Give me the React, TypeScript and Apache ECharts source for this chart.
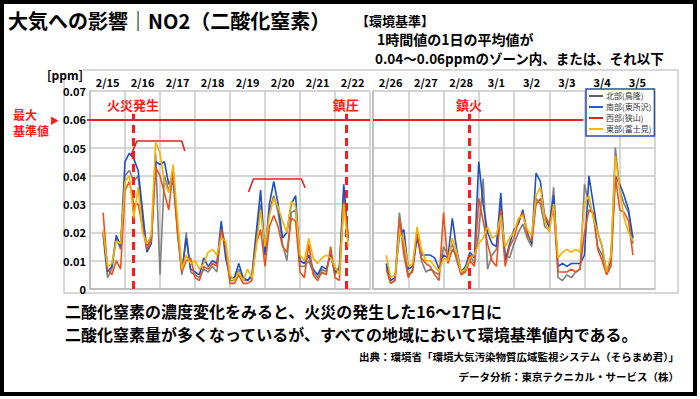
import React, { useEffect, useRef } from "react";
import * as echarts from "echarts";

const JP = '"Noto Sans CJK JP", "Noto Sans", sans-serif';

const leftDates = ["2/15", "2/16", "2/17", "2/18", "2/19", "2/20", "2/21", "2/22"];
const rightDates = ["2/26", "2/27", "2/28", "3/1", "3/2", "3/3", "3/4", "3/5"];
const seriesNames = ["北部(鳥隆)", "南部(東所沢)", "西部(狭山)", "東部(富士見)"];
const lineColors = ["#808080", "#1f4fc4", "#e8541c", "#f5b400"];
const legendColors = ["#606060", "#2a5ac8", "#e82020", "#f5b400"];

// 3-hourly readings, starting 09:00 of the first day of each panel
const START = 0.375;
const STEP = 0.125;

const leftNorth = [0.019,0.004,0.007,0.018,0.014,0.040,0.042,0.038,0.040,0.025,0.015,0.018,0.048,0.005,0.040,0.035,0.038,0.020,0.005,0.020,0.006,0.005,0.004,0.007,0.006,0.008,0.006,0.021,0.016,0.003,0.003,0.007,0.003,0.003,0.004,0.018,0.030,0.012,0.028,0.033,0.027,0.016,0.010,0.027,0.028,0.008,0.008,0.010,0.006,0.004,0.007,0.006,0.013,0.005,0.008,0.034,0.017];
const leftSouth = [0.020,0.006,0.008,0.019,0.015,0.045,0.048,0.046,0.042,0.028,0.013,0.016,0.045,0.044,0.045,0.037,0.040,0.022,0.006,0.018,0.007,0.006,0.005,0.011,0.008,0.010,0.009,0.024,0.011,0.004,0.004,0.009,0.004,0.003,0.005,0.020,0.035,0.012,0.030,0.038,0.030,0.018,0.020,0.030,0.033,0.010,0.009,0.012,0.007,0.005,0.008,0.007,0.012,0.006,0.007,0.037,0.018];
const leftWest = [0.027,0.007,0.005,0.010,0.007,0.035,0.038,0.030,0.030,0.022,0.014,0.017,0.043,0.040,0.034,0.028,0.042,0.020,0.006,0.010,0.011,0.004,0.003,0.008,0.007,0.009,0.008,0.021,0.015,0.002,0.002,0.005,0.002,0.002,0.003,0.016,0.021,0.008,0.022,0.026,0.022,0.015,0.013,0.025,0.024,0.006,0.004,0.016,0.005,0.003,0.006,0.005,0.015,0.004,0.003,0.031,0.019];
const leftEast = [0.021,0.008,0.009,0.017,0.016,0.038,0.040,0.025,0.036,0.020,0.016,0.019,0.052,0.048,0.038,0.034,0.044,0.025,0.007,0.012,0.009,0.010,0.007,0.009,0.013,0.014,0.012,0.018,0.017,0.005,0.003,0.006,0.003,0.007,0.004,0.015,0.028,0.015,0.026,0.032,0.029,0.024,0.020,0.031,0.029,0.012,0.010,0.018,0.011,0.009,0.011,0.012,0.011,0.008,0.005,0.030,0.015];

const rightNorth = [0.008,0.002,0.003,0.027,0.015,0.005,0.006,0.019,0.010,0.006,0.007,0.006,0.005,0.015,0.012,0.016,0.010,0.005,0.007,0.012,0.009,0.020,0.039,0.007,0.012,0.014,0.030,0.012,0.011,0.016,0.020,0.023,0.018,0.015,0.032,0.030,0.022,0.021,0.036,0.004,0.003,0.005,0.004,0.006,0.007,0.037,0.030,0.026,0.015,0.012,0.006,0.010,0.050,0.035,0.030,0.027,0.016];
const rightSouth = [0.009,0.003,0.004,0.019,0.021,0.007,0.008,0.018,0.012,0.012,0.012,0.011,0.007,0.012,0.011,0.025,0.014,0.006,0.008,0.013,0.011,0.045,0.030,0.020,0.016,0.015,0.034,0.010,0.016,0.021,0.023,0.028,0.020,0.016,0.041,0.038,0.025,0.022,0.033,0.008,0.009,0.008,0.009,0.009,0.009,0.012,0.040,0.030,0.020,0.015,0.006,0.010,0.040,0.037,0.033,0.028,0.018];
const rightWest = [0.007,0.002,0.003,0.025,0.012,0.004,0.007,0.020,0.011,0.009,0.008,0.005,0.003,0.027,0.009,0.014,0.012,0.005,0.006,0.010,0.008,0.032,0.024,0.016,0.010,0.008,0.028,0.008,0.015,0.018,0.024,0.027,0.019,0.017,0.030,0.032,0.026,0.023,0.028,0.006,0.006,0.006,0.007,0.006,0.007,0.020,0.028,0.027,0.014,0.010,0.005,0.008,0.040,0.028,0.027,0.024,0.012];
const rightEast = [0.012,0.004,0.005,0.020,0.017,0.008,0.009,0.022,0.014,0.010,0.010,0.008,0.006,0.011,0.010,0.018,0.013,0.006,0.007,0.011,0.012,0.016,0.018,0.022,0.018,0.019,0.026,0.015,0.018,0.020,0.025,0.026,0.021,0.019,0.033,0.036,0.024,0.020,0.030,0.011,0.013,0.014,0.013,0.014,0.013,0.030,0.033,0.025,0.020,0.015,0.006,0.012,0.047,0.035,0.025,0.020,0.017];

// annotations (in day units / ppm)
const STANDARD = 0.06;
const DASH_TOP = 0.062;
const fireStart = 1.23; // 火災発生 (left panel)
const suppressed = 7.31; // 鎮圧 (left panel)
const extinguished = 2.72; // 鎮火 (right panel)
const rightStdEnd = 5.96;
const bracket1 = [[1.17, 0.0473], [1.34, 0.0523], [2.62, 0.0523], [2.71, 0.0488]];
const bracket2 = [[4.53, 0.0343], [4.67, 0.0389], [6.04, 0.0389], [6.15, 0.0357]];

const toPts = (arr: number[]) => arr.map((v, i) => [START + i * STEP, v]);

const RED = "#ff1a1a";
const GRID_LINE = "#c8c8c8";

function dashLine(t: number, text: string) {
  return [
    {
      coord: [t, 0],
      lineStyle: { color: RED, width: 3, type: [8, 5] },
      label: {
        show: true,
        position: "end",
        formatter: text,
        color: RED,
        fontSize: 13,
        fontWeight: "bold",
        fontFamily: JP,
        distance: 3,
      },
    },
    { coord: [t, DASH_TOP] },
  ];
}

function stdLine(end: number) {
  return [
    { coord: [0, STANDARD], lineStyle: { color: "#e82020", width: 2, type: "solid" }, label: { show: false } },
    { coord: [end, STANDARD] },
  ];
}

export default function App() {
  const ref = useRef<HTMLDivElement>(null);
  useEffect(() => {
    if (!ref.current) return;
    const chart = echarts.init(ref.current, undefined, { renderer: "svg" });

    const panelSeries = (grid: number, data: number[][], withMarks: any) =>
      data.map((arr, k) => ({
        name: seriesNames[k],
        type: "line",
        xAxisIndex: grid * 2,
        yAxisIndex: grid,
        data: toPts(arr),
        showSymbol: false,
        symbol: "none",
        lineStyle: { color: lineColors[k], width: 1.6 },
        itemStyle: { color: legendColors[k] },
        z: 3 + k,
        markLine: k === 0 ? withMarks : undefined,
      }));

    const xValue = (grid: number) => ({
      type: "value",
      gridIndex: grid,
      min: 0,
      max: 8,
      interval: 1,
      axisLine: { show: true, lineStyle: { color: "#b8b8b8", width: 1.5 } },
      axisTick: { show: false },
      axisLabel: { show: false },
      splitLine: { show: true, lineStyle: { color: GRID_LINE, width: 1.5 } },
    });
    const xCat = (grid: number, data: string[]) => ({
      type: "category",
      gridIndex: grid,
      position: "top",
      data,
      boundaryGap: true,
      axisLine: { show: false },
      axisTick: { show: false },
      splitLine: { show: false },
      axisLabel: { fontSize: 11, fontWeight: "bold", color: "#000", fontFamily: JP, margin: 4 },
    });
    const yAx = (grid: number, labels: boolean) => ({
      type: "value",
      gridIndex: grid,
      min: 0,
      max: 0.07,
      interval: 0.01,
      axisLine: { show: true, lineStyle: { color: "#b8b8b8", width: 1.5 } },
      axisTick: { show: false },
      axisLabel: {
        show: labels,
        fontSize: 11,
        fontWeight: "bold",
        color: "#000",
        fontFamily: JP,
        margin: 4,
        formatter: (v: number) => (v === 0 ? "0" : v.toFixed(2)),
      },
      splitLine: { show: true, lineStyle: { color: GRID_LINE, width: 1.5 } },
    });

    const txt = (text: string, x: number, y: number, size: number, opts: any = {}) => ({
      type: "text",
      z: 20,
      style: {
        text,
        x,
        y,
        fill: opts.fill || "#000",
        fontSize: size,
        fontWeight: "bold",
        fontFamily: JP,
        textAlign: opts.align || "left",
        textVerticalAlign: "middle",
        backgroundColor: opts.bg,
        lineHeight: opts.lh,
      },
    });

    const bracketSeries = (pts: number[][]) => ({
      type: "line",
      xAxisIndex: 0,
      yAxisIndex: 0,
      data: pts,
      showSymbol: false,
      symbol: "none",
      lineStyle: { color: "#e82020", width: 1.6 },
      z: 10,
      silent: true,
    });

    chart.setOption({
      animation: false,
      backgroundColor: "#ffffff",
      grid: [
        { left: 90, top: 91, width: 280, height: 198 },
        { left: 373, top: 91, width: 282, height: 198 },
      ],
      xAxis: [xValue(0), xCat(0, leftDates), xValue(1), xCat(1, rightDates)],
      yAxis: [yAx(0, true), yAx(1, false)],
      legend: {
        data: seriesNames,
        orient: "vertical",
        left: 586,
        top: 89,
        icon: "rect",
        itemWidth: 14,
        itemHeight: 2,
        itemGap: 3,
        padding: [3, 3, 3, 3],
        borderColor: "#2a4cae",
        borderWidth: 1.5,
        backgroundColor: "#ffffff",
        selectedMode: false,
        textStyle: { fontSize: 8, fontFamily: JP, color: "#333", padding: [0, 0, 0, -2] },
        z: 30,
      },
      series: [
        ...panelSeries(0, [leftNorth, leftSouth, leftWest, leftEast], {
          silent: true,
          symbol: "none",
          animation: false,
          data: [stdLine(8), dashLine(fireStart, "火災発生"), dashLine(suppressed, "鎮圧")],
        }),
        ...panelSeries(1, [rightNorth, rightSouth, rightWest, rightEast], {
          silent: true,
          symbol: "none",
          animation: false,
          data: [stdLine(rightStdEnd), dashLine(extinguished, "鎮火")],
        }),
        bracketSeries(bracket1),
        bracketSeries(bracket2),
      ],
      graphic: [
        {
          type: "rect",
          z: 0,
          shape: { x: 64, y: 70, width: 614, height: 223 },
          style: { fill: "none", stroke: "#cccccc", lineWidth: 1.5 },
        },
        {
          type: "line",
          z: 5,
          shape: { x1: 87, y1: 119.9, x2: 90, y2: 119.9 },
          style: { stroke: "#e82020", lineWidth: 2 },
        },
        {
          type: "rect",
          z: 50,
          shape: { x: 2, y: 2, width: 693, height: 392 },
          style: { fill: "none", stroke: "#000000", lineWidth: 4 },
        },
        txt("大気への影響｜NO2（二酸化窒素）", 8, 20, 20),
        txt("【環境基準】", 356, 20, 13),
        txt("1時間値の1日の平均値が", 377, 39, 14),
        txt("0.04～0.06ppmのゾーン内、または、それ以下", 375, 58, 13.5),
        txt("[ppm]", 47, 74, 12, { bg: "#ffffff" }),
        txt("最大\n基準値", 13, 122, 12, { fill: RED, lh: 16 }),
        txt("▶", 50, 120, 9, { fill: RED }),
        txt("二酸化窒素の濃度変化をみると、火災の発生した16～17日に", 65, 311, 16),
        txt("二酸化窒素量が多くなっているが、すべての地域において環境基準値内である。", 65, 334, 16),
        txt("出典：環境省「環境大気汚染物質広域監視システム（そらまめ君）」", 679, 356, 10.5, { align: "right" }),
        txt("データ分析：東京テクニカル・サービス（株）", 679, 376, 10.5, { align: "right" }),
      ],
    });
    return () => chart.dispose();
  }, []);
  return (
    <div
      ref={ref}
      style={{ position: "absolute", left: 0, top: 0, width: 700, height: 399, background: "#fff" }}
    />
  );
}
